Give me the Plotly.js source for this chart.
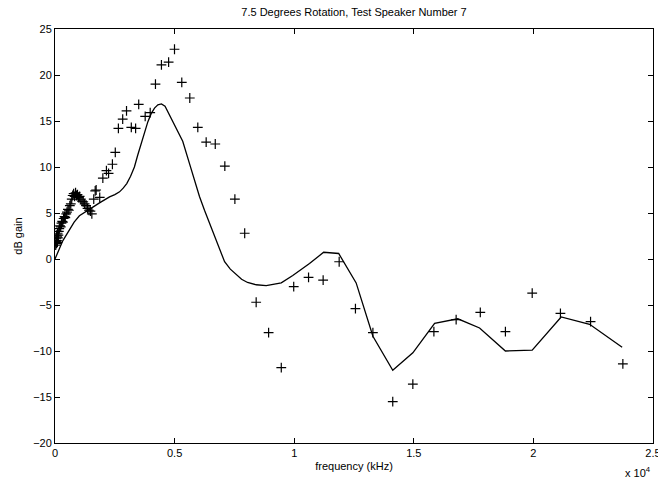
<!DOCTYPE html>
<html>
<head>
<meta charset="utf-8">
<script src="https://cdn.plot.ly/plotly-3.0.1.min.js"></script>
<style>html,body{margin:0;padding:0;background:#fff;}#chart{width:658px;height:479px;}</style>
</head>
<body>
<div id="chart"></div>
<script>
// frequency in units of 10^4 Hz, gain in dB
const modelFreq = [0.0, 0.015, 0.033, 0.061, 0.08, 0.102, 0.124, 0.144, 0.165, 0.186, 0.207, 0.228, 0.25, 0.27, 0.285, 0.3, 0.316, 0.332, 0.346, 0.360, 0.374, 0.388, 0.402, 0.416, 0.43, 0.445, 0.46, 0.478, 0.505, 0.534, 0.562, 0.582, 0.604, 0.625, 0.646, 0.668, 0.689, 0.709, 0.733, 0.758, 0.78, 0.805, 0.841, 0.883, 0.946, 0.994, 1.064, 1.123, 1.186, 1.259, 1.329, 1.412, 1.496, 1.587, 1.684, 1.775, 1.883, 1.995, 2.116, 2.235, 2.371];
const modelGain = [0.0, 1.0, 2.0, 3.2, 4.0, 4.7, 5.1, 5.4, 5.75, 6.1, 6.45, 6.75, 7.0, 7.3, 7.7, 8.2, 9.0, 10.0, 11.3, 12.6, 13.8, 14.9, 15.8, 16.4, 16.75, 16.85, 16.6, 15.7, 14.3, 12.8, 10.4, 8.6, 6.8, 5.3, 3.9, 2.4, 0.9, -0.3, -1.1, -1.7, -2.2, -2.55, -2.8, -2.9, -2.6, -1.8, -0.5, 0.73, 0.6, -2.6, -8.4, -12.1, -10.2, -7.0, -6.5, -7.5, -10.0, -9.9, -6.3, -7.1, -9.6];

const measFreq = [0.003, 0.004, 0.005, 0.006, 0.007, 0.008, 0.009, 0.010, 0.011, 0.012, 0.014, 0.016, 0.018, 0.021, 0.024, 0.027, 0.030, 0.033, 0.036, 0.040, 0.043, 0.047, 0.050, 0.054, 0.058, 0.062, 0.066, 0.070, 0.074, 0.078, 0.082, 0.086, 0.090, 0.094, 0.098, 0.103, 0.108, 0.113, 0.118, 0.124, 0.130, 0.136, 0.142, 0.148, 0.154,
  0.162, 0.168, 0.172, 0.187, 0.200, 0.215, 0.224, 0.240, 0.252, 0.265, 0.283, 0.299, 0.319, 0.337, 0.350, 0.377, 0.398, 0.420, 0.445, 0.475, 0.4996, 0.530, 0.5635, 0.597, 0.632, 0.670, 0.710, 0.752, 0.793, 0.841, 0.893, 0.946, 0.998, 1.060, 1.121, 1.188, 1.256, 1.329, 1.412, 1.496, 1.584, 1.677, 1.778, 1.883, 1.995, 2.113, 2.239, 2.374];
const measGain = [1.5, 1.9, 2.2, 1.7, 2.6, 2.0, 2.4, 1.8, 2.8, 2.3, 2.6, 3.0, 3.3, 3.6, 3.5, 3.9, 4.1, 4.0, 4.4, 4.6, 4.5, 4.9, 5.1, 5.4, 5.3, 5.8, 6.0, 6.5, 6.9, 7.1, 6.8, 7.2, 6.9, 7.0, 6.7, 6.8, 6.5, 6.3, 6.2, 6.0, 5.8, 5.5, 5.3, 5.2, 4.9,
  6.5, 7.4, 7.5, 6.7, 8.8, 9.6, 9.3, 10.3, 11.6, 14.2, 15.2, 16.1, 14.3, 14.2, 16.8, 15.5, 15.9, 19.0, 21.1, 21.4, 22.8, 19.2, 17.5, 14.3, 12.7, 12.5, 10.1, 6.5, 2.8, -4.7, -8.0, -11.8, -3.0, -2.0, -2.3, -0.3, -5.4, -8.0, -15.5, -13.6, -7.9, -6.6, -5.8, -7.9, -3.7, -5.9, -6.8, -11.4];

const xTicks = [0, 0.5, 1, 1.5, 2, 2.5];
const xTickText = ['0', '0.5', '1', '1.5', '2', '2.5'];
const yTicks = [-20, -15, -10, -5, 0, 5, 10, 15, 20, 25];

const font = {family: 'Liberation Sans, Arial, sans-serif', size: 11, color: '#000'};

const traces = [
  {x: modelFreq, y: modelGain, mode: 'lines', type: 'scatter', line: {color: '#000', width: 1.3}, hoverinfo: 'skip'},
  {x: measFreq, y: measGain, mode: 'markers', type: 'scatter', marker: {symbol: 'cross-thin', size: 7, line: {color: '#000', width: 1.2}, color: '#000'}}
];

const layout = {
  width: 658, height: 479,
  margin: {l: 55, r: 5, t: 29, b: 36},
  paper_bgcolor: '#fff', plot_bgcolor: '#fff',
  showlegend: false,
  font: font,
  title: {text: '7.5 Degrees Rotation, Test Speaker Number 7', font: {family: font.family, size: 11, color: '#000'}, x: 0.538, xanchor: 'center', y: 0.975, yanchor: 'middle', yref: 'container'},
  xaxis: {
    range: [0, 2.5], tickvals: xTicks, ticktext: xTickText,
    ticks: 'inside', ticklen: 5, tickcolor: '#000', tickwidth: 1,
    showline: true, linecolor: '#000', linewidth: 1, mirror: 'allticks',
    showgrid: false, zeroline: false, ticklabeloverflow: 'allow',
    title: {text: 'frequency (kHz)', font: font, standoff: 4},
    tickfont: font
  },
  yaxis: {
    range: [-20, 25], tickvals: yTicks,
    ticks: 'inside', ticklen: 5, tickcolor: '#000', tickwidth: 1,
    showline: true, linecolor: '#000', linewidth: 1, mirror: 'allticks',
    showgrid: false, zeroline: false,
    title: {text: 'dB gain', font: font, standoff: 8},
    tickfont: font
  },
  annotations: [
    {text: 'x 10<sup>4</sup>', xref: 'paper', yref: 'paper', x: 1.0, y: -0.07, xanchor: 'right', yanchor: 'middle', showarrow: false, font: {family: font.family, size: 11, color: '#000'}}
  ]
};

Plotly.newPlot('chart', traces, layout, {displayModeBar: false, staticPlot: true});
</script>
</body>
</html>
